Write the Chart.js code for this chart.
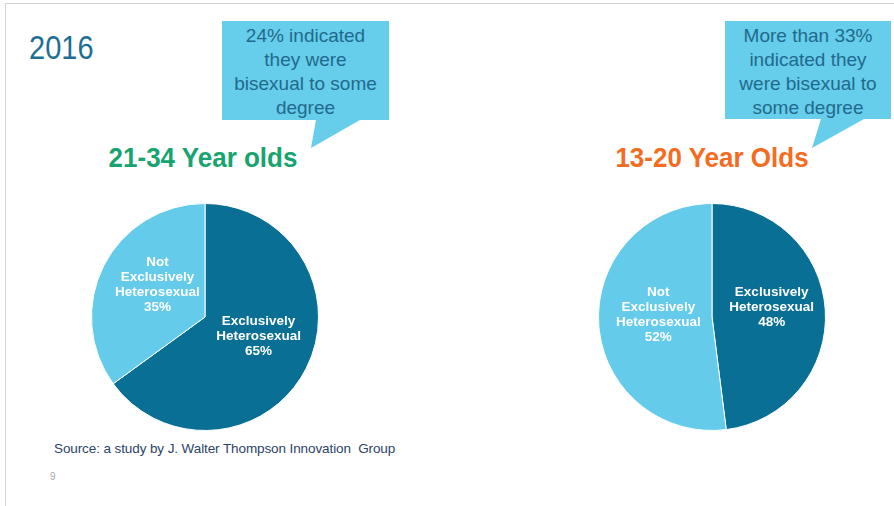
<!DOCTYPE html>
<html>
<head>
<meta charset="utf-8">
<script src="https://cdn.jsdelivr.net/npm/chart.js@4/dist/chart.umd.min.js"></script>
<style>
  html, body { margin: 0; padding: 0; background: #fff; }
  body { width: 894px; height: 506px; position: relative; overflow: hidden; font-family: "Liberation Sans", Arial, sans-serif; }
  .slide { position: absolute; left: 5px; top: 3px; width: 900px; height: 520px; border-top: 1px solid #d4d4d4; border-left: 1px solid #d4d4d4; }
  .year { position: absolute; left: 29px; top: 30px; font-size: 29px; color: #1d6f93; transform: scaleY(1.12); transform-origin: left top; }
  .callout-text { position: absolute; text-align: center; font-size: 19px; line-height: 24px; color: #1f6a8c; }
  .title { position: absolute; font-size: 26px; font-weight: bold; text-align: center; width: 260px; transform: scaleY(1.06); }
  .pie { position: absolute; }
  .source { position: absolute; left: 54px; top: 441px; font-size: 13.5px; letter-spacing: -0.1px; color: #2b4468; }
  .page-num { position: absolute; left: 50px; top: 471px; font-size: 10px; color: #a6a6a6; }
</style>
</head>
<body>
<div class="slide"></div>
<div class="year">2016</div>

<svg width="894" height="506" style="position:absolute;left:0;top:0">
  <polygon fill="#66cdea" points="222,21 389,21 389,120 360,120 311,148 316,120 222,120"/>
  <polygon fill="#66cdea" points="725,21 891,21 891,119 864,119 812,148 821,119 725,119"/>
</svg>
<div class="callout-text" style="left:222px;top:24px;width:167px">24% indicated<br>they were<br>bisexual to some<br>degree</div>
<div class="callout-text" style="left:725px;top:24px;width:166px">More than 33%<br>indicated they<br>were bisexual to<br>some degree</div>

<div class="title" style="left:73px;top:142px;color:#17a470">21-34 Year olds</div>
<div class="title" style="left:582px;top:142px;color:#f36c1f">13-20 Year Olds</div>

<canvas id="pieAdults" class="pie" width="228" height="228" style="left:91px;top:203px"></canvas>
<canvas id="pieTeens" class="pie" width="228" height="228" style="left:598px;top:203px"></canvas>

<div class="source">Source: a study by J. Walter Thompson Innovation&nbsp; Group</div>
<div class="page-num">9</div>

<script>
// slice names, split into the lines shown inside each slice
const categories = ['Exclusively Heterosexual', 'Not Exclusively Heterosexual'];
const categoryLines = [['Exclusively', 'Heterosexual'], ['Not', 'Exclusively', 'Heterosexual']];

// percentages per age group
const adultValues = [65, 35];   // 21-34
const teenValues = [48, 52];    // 13-20

const sliceColors = ['#0a6f94', '#64cbea'];

// writes "name lines + value%" in white at the middle of each slice
const sliceLabels = {
    id: 'sliceLabels',
    afterDatasetsDraw(chart) {
        const ctx = chart.ctx;
        const values = chart.data.datasets[0].data;
        const arcs = chart.getDatasetMeta(0).data;
        ctx.save();
        ctx.fillStyle = '#ffffff';
        ctx.font = 'bold 13.5px "Liberation Sans", Arial, sans-serif';
        ctx.textAlign = 'center';
        ctx.textBaseline = 'middle';
        const lineH = 15;
        arcs.forEach((arc, i) => {
            const pos = arc.tooltipPosition();
            const lines = categoryLines[i].concat([values[i] + '%']);
            const top = pos.y - (lines.length - 1) * lineH / 2 - 6;
            lines.forEach((line, k) => ctx.fillText(line, pos.x + 3, top + k * lineH));
        });
        ctx.restore();
    }
};

function makePie(canvasId, values) {
    return new Chart(document.getElementById(canvasId), {
        type: 'pie',
        data: {
            labels: categories,
            datasets: [{
                data: values,
                backgroundColor: sliceColors,
                borderColor: '#ffffff',
                borderWidth: 1
            }]
        },
        options: {
            responsive: false,
            animation: false,
            layout: { padding: 0 },
            plugins: {
                legend: { display: false },
                tooltip: { enabled: false }
            }
        },
        plugins: [sliceLabels]
    });
}

makePie('pieAdults', adultValues);
makePie('pieTeens', teenValues);
</script>
</body>
</html>
